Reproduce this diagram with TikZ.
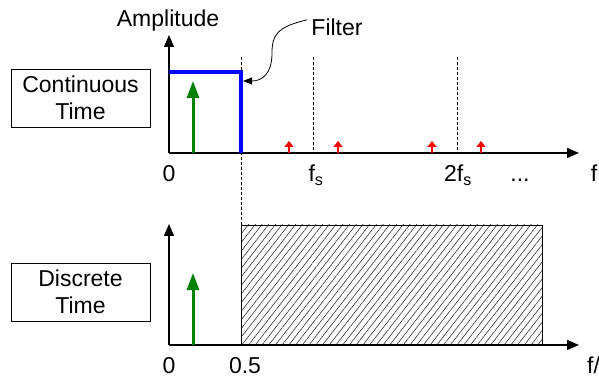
\documentclass[tikz,border=0pt]{standalone}
\usepackage{fontspec}
\setmainfont{Liberation Sans}
\usetikzlibrary{arrows.meta,patterns.meta}
\tikzset{
  axis/.style={line width=1.4pt,-{Triangle[length=12pt,width=10pt]}},
  guide/.style={line width=0.9pt,dash pattern=on 3pt off 2pt},
  filt/.style={line width=4pt,draw=blue,line join=miter},
  sig/.style={line width=3pt,draw=green!50!black,-{Triangle[length=17pt,width=12pt]}},
  alias/.style={line width=2pt,draw=red,-{Triangle[length=6pt,width=9pt]}},
  labelbox/.style={draw,line width=0.9pt,minimum width=139pt,minimum height=58pt,align=center,inner sep=0pt,font=\fontsize{23}{27}\selectfont},
  txt/.style={inner sep=0pt,font=\fontsize{23}{25}\selectfont},
  btxt/.style={txt,anchor=base},
}
\begin{document}
\begin{tikzpicture}[x=1pt,y=-1pt]
\useasboundingbox (0,0) rectangle (599,379);
% ---------- top plot ----------
\coordinate (o1) at (169,153);
\coordinate (x1) at (579,153);
\coordinate (y1) at (169,35);
\draw[axis] (o1) -- (x1);
\draw[axis] (o1) -- (y1);
\coordinate (c1t) at (241,57);
\coordinate (c1b) at (241,225);
\draw[guide] (c1t) -- (c1b);
\coordinate (fst) at (313,57);
\coordinate (fsb) at (313,153);
\draw[guide] (fst) -- (fsb);
\coordinate (f2t) at (457,57);
\coordinate (f2b) at (457,153);
\draw[guide] (f2t) -- (f2b);
\coordinate (fa) at (169,72);
\coordinate (fb) at (241,72);
\coordinate (fc) at (241,153);
\draw[filt] (fa) -- (fb) -- (fc);
\coordinate (g1a) at (193,153);
\coordinate (g1b) at (193,81);
\draw[sig] (g1a) -- (g1b);
\foreach \n/\xx in {r1/289,r2/338,r3/432,r4/481}{
  \coordinate (\n a) at (\xx,153);
  \coordinate (\n b) at (\xx,141);
  \draw[alias] (\n a) -- (\n b);
}
\node[btxt] (amp) at (168,27) {Amplitude};
\node[btxt] (filter) at (337,36) {Filter};
\coordinate (ftip) at (243,81);
\draw[line width=0.8pt,-{Triangle[length=9pt,width=7pt]}] (filter.west) ++(-4,-8) coordinate (fs0)
  .. controls (276,27) and (272,36) .. (272,53)
  .. controls (272,74) and (262,81) .. (ftip);
\node[btxt] (l0a) at (169,182) {0};
\node[btxt] (lfs) at (316,182) {f$_{\mathrm{s}}$};
\node[btxt] (l2fs) at (458,182) {2f$_{\mathrm{s}}$};
\node[btxt] (ldots) at (520,182) {...};
\node[btxt] (lf) at (594,182) {f};
\node[labelbox] (ct) at (80.5,98) {Continuous\\Time};
% ---------- bottom plot ----------
\coordinate (o2) at (169,345);
\coordinate (x2) at (579,345);
\coordinate (y2) at (169,224);
\node[draw,line width=0.9pt,inner sep=0pt,minimum width=301pt,minimum height=120pt,
  pattern={Lines[angle=52,distance=5.3pt,line width=0.6pt]},pattern color=black!80] (hatch) at (391.5,285) {};
\draw[axis] (o2) -- (x2);
\draw[axis] (o2) -- (y2);
\coordinate (g2a) at (193,345);
\coordinate (g2b) at (193,273);
\draw[sig] (g2a) -- (g2b);
\node[btxt] (l0b) at (169,373) {0};
\node[btxt] (l05) at (245,373) {0.5};
\node[btxt,anchor=base west] (lff) at (587,373) {f/f$_{\mathrm{s}}$};
\node[labelbox] (dt) at (80.5,292) {Discrete\\Time};
\end{tikzpicture}
\end{document}
